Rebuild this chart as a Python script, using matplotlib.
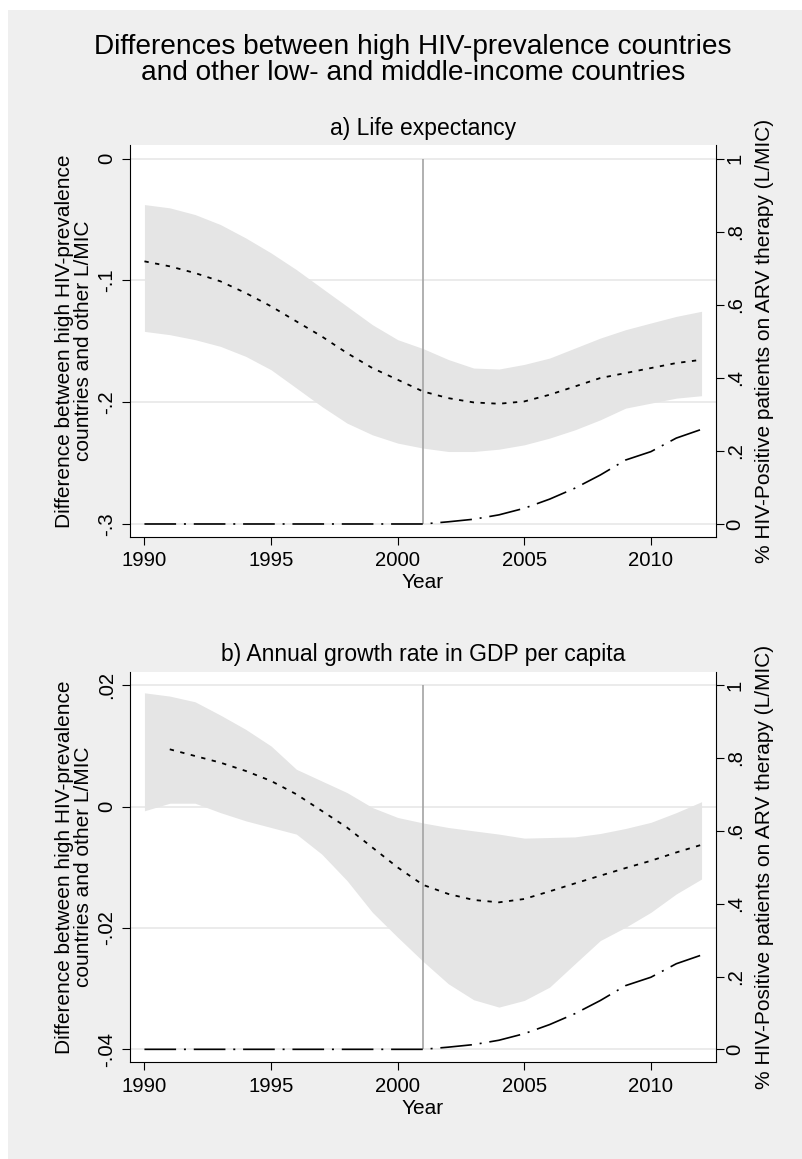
import matplotlib
matplotlib.use("Agg")
import matplotlib.pyplot as plt
from matplotlib.patches import Rectangle

plt.rcParams['font.family'] = ['Liberation Sans', 'DejaVu Sans']

years = list(range(1990, 2013))

# a) Life expectancy: difference and 95% band
le_mid = [-0.0844, -0.0885, -0.0940, -0.1008, -0.1104, -0.1213, -0.1337, -0.1460,
          -0.1597, -0.1720, -0.1816, -0.1912, -0.1967, -0.2002, -0.2013, -0.1994,
          -0.1939, -0.1871, -0.1802, -0.1761, -0.1720, -0.1679, -0.1652]
le_upper = [-0.0378, -0.0405, -0.0460, -0.0542, -0.0652, -0.0775, -0.0912, -0.1063,
            -0.1213, -0.1364, -0.1487, -0.1560, -0.1650, -0.1720, -0.1728, -0.1690,
            -0.1638, -0.1556, -0.1474, -0.1405, -0.1350, -0.1296, -0.1254]
le_lower = [-0.1419, -0.1446, -0.1487, -0.1542, -0.1624, -0.1734, -0.1884, -0.2035,
            -0.2172, -0.2268, -0.2336, -0.2377, -0.2405, -0.2405, -0.2386, -0.2350,
            -0.2295, -0.2227, -0.2145, -0.2049, -0.2008, -0.1967, -0.1947]

# b) GDP per capita growth: difference (from 1991) and 95% band
gdp_years = list(range(1991, 2013))
gdp_mid = [0.00943, 0.00833, 0.00724, 0.00587, 0.00422, 0.00203, -0.00070,
           -0.00345, -0.00674, -0.01003, -0.01290, -0.01440, -0.01539, -0.01578,
           -0.01523, -0.01397, -0.01266, -0.01139, -0.01013, -0.00893, -0.00756,
           -0.00630]
gdp_upper = [0.01874, 0.01820, 0.01726, 0.01507, 0.01272, 0.00998, 0.00614,
             0.00422, 0.00230, -0.00016, -0.00180, -0.00270, -0.00345, -0.00400,
             -0.00454, -0.00520, -0.00510, -0.00500, -0.00444, -0.00361, -0.00260,
             -0.00100, 0.00080]
gdp_lower = [-0.00070, 0.00055, 0.00055, -0.00100, -0.00235, -0.00345, -0.00454,
             -0.00783, -0.01220, -0.01742, -0.02153, -0.02550, -0.02920, -0.03183,
             -0.03304, -0.03194, -0.02975, -0.02590, -0.02208, -0.01989, -0.01742,
             -0.01440, -0.01194]

# Share of HIV-positive patients on ARV therapy (L/MIC)
arv = [0, 0, 0, 0, 0, 0, 0, 0, 0, 0, 0, 0, 0.006, 0.013, 0.025, 0.043, 0.068,
       0.098, 0.134, 0.175, 0.198, 0.235, 0.259]

panels = [
    dict(title="a) Life expectancy", mid_x=years, mid=le_mid, up=le_upper, lo=le_lower,
         ticks=[0, -0.1, -0.2, -0.3], ticklabels=["0", "-.1", "-.2", "-.3"],
         ymin=-0.3, ymax=0.0),
    dict(title="b) Annual growth rate in GDP per capita", mid_x=gdp_years, mid=gdp_mid,
         up=gdp_upper, lo=gdp_lower,
         ticks=[0.02, 0, -0.02, -0.04], ticklabels=[".02", "0", "-.02", "-.04"],
         ymin=-0.04, ymax=0.02),
]
arv_ticks = [0, 0.2, 0.4, 0.6, 0.8, 1.0]
arv_ticklabels = ["0", ".2", ".4", ".6", ".8", "1"]
xticks = [1990, 1995, 2000, 2005, 2010]

W, H = 803, 1159
fig = plt.figure(figsize=(W / 100, H / 100), dpi=100, facecolor="white")
fig.patches.append(Rectangle((8 / W, 0), 1 - 8 / W, 1 - 10 / H, transform=fig.transFigure,
                             facecolor="#efefef", edgecolor="none", zorder=-10))

def fx(px):
    return px / W

def fy(py):
    return 1 - py / H

title_fs = 20.2
sub_fs = 16.5
lab_fs = 15
tick_fs = 14.6

fig.text(fx(413), fy(60), "Differences between high HIV-prevalence countries\n"
         "and other low- and middle-income countries",
         ha="center", va="center", fontsize=title_fs, linespacing=1.04)

ax_boxes = [(145, 537), (671.7, 1062.3)]
left_px, right_px = 130, 716
sub_y = [128, 655]
pad_top, pad_bot = 0.037, 0.0356

for p, (top, bot), sy in zip(panels, ax_boxes, sub_y):
    ax = fig.add_axes([fx(left_px), fy(bot), fx(right_px - left_px), (bot - top) / H])
    ax.set_facecolor("white")
    rng = p["ymax"] - p["ymin"]
    ax.set_ylim(p["ymin"] - pad_bot * rng, p["ymax"] + pad_top * rng)
    ax.set_xlim(1989.43, 2012.57)

    ax.fill_between(years, p["lo"], p["up"], color="#e5e5e5", linewidth=0, zorder=1)
    ax.plot(p["mid_x"], p["mid"], color="black", linewidth=1.3, dashes=(2.4, 3.6), zorder=3)
    ax.vlines(2001, p["ymin"], p["ymax"], color="#a3a3a3", linewidth=1.2, zorder=4)

    ax.set_yticks(p["ticks"])
    ax.set_yticklabels(p["ticklabels"], rotation=90, va="center", fontsize=tick_fs)
    ax.set_xticks(xticks)
    ax.set_xticklabels([str(x) for x in xticks], fontsize=tick_fs)
    ax.tick_params(axis="y", length=5.5, width=0.8, pad=4.3)
    ax.tick_params(axis="x", length=5.8, width=0.8, pad=4.5)
    ax.grid(axis="y", color="#e6e6e6", linewidth=1.1)
    ax.set_axisbelow(True)
    for s in ["top", "right"]:
        ax.spines[s].set_visible(False)
    for s in ["left", "bottom"]:
        ax.spines[s].set_linewidth(0.8)

    ax2 = ax.twinx()
    ax2.set_ylim(-pad_bot, 1 + pad_top)
    ax2.plot(years, arv, color="black", linewidth=1.2,
             dashes=(19, 4.7, 1.2, 4.7), zorder=3)
    ax2.set_yticks(arv_ticks)
    ax2.set_yticklabels(arv_ticklabels, rotation=90, va="center", fontsize=tick_fs)
    ax2.tick_params(axis="y", length=5.5, width=0.8, pad=1.5)
    for s in ["top", "left", "bottom"]:
        ax2.spines[s].set_visible(False)
    ax2.spines["right"].set_linewidth(0.8)

    cy = (top + bot) / 2
    fig.text(fx(423), fy(sy), p["title"], ha="center", va="center", fontsize=sub_fs)
    fig.text(fx(423), fy(bot + 46), "Year", ha="center", va="center", fontsize=lab_fs)
    fig.text(fx(74), fy(cy), "Difference between high HIV-prevalence\n"
             "countries and other L/MIC", rotation=90, ha="center", va="center",
             fontsize=lab_fs, linespacing=1.0)
    fig.text(fx(765), fy(cy), "% HIV-Positive patients on ARV therapy (L/MIC)",
             rotation=90, ha="center", va="center", fontsize=lab_fs)

fig.savefig("out.png", dpi=100, facecolor=fig.get_facecolor())
